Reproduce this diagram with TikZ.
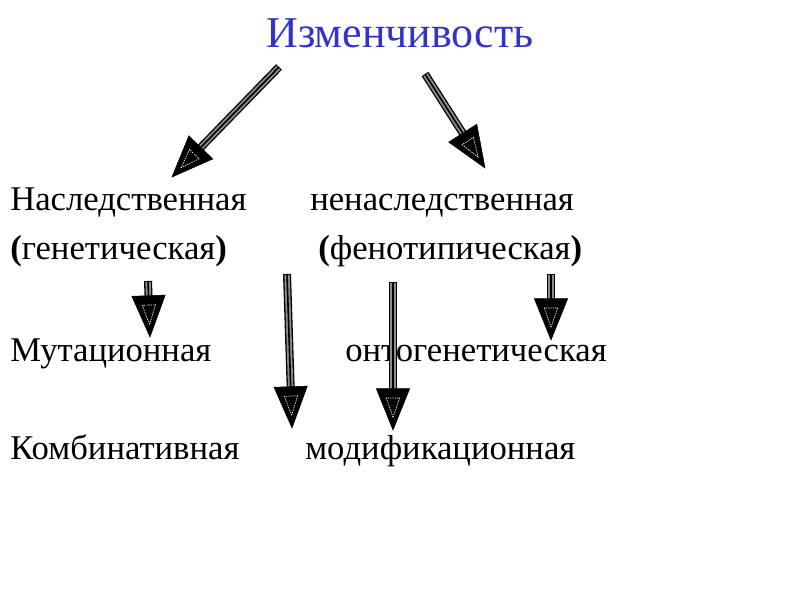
\documentclass[tikz,border=0pt]{standalone}
\usepackage{fontspec}
\setmainfont{Liberation Serif}
\usetikzlibrary{calc}
\definecolor{titleblue}{RGB}{51,51,204}
\tikzset{
  body/.style={anchor=base west, inner sep=0pt, font=\fontsize{26}{31}\selectfont},
  titletext/.style={anchor=base, inner sep=0pt, text=titleblue, font=\fontsize{33}{40}\selectfont},
  shaftout/.style={line width=6pt, black},
  shaftmid/.style={line width=4pt, black!45},
  shaftin/.style={line width=1.2pt, black},
  headfill/.style={fill=black, draw=black, line join=miter},
  headinner/.style={draw=white, line width=0.5pt, dash pattern=on 1pt off 0.8pt},
}
\newcommand\fatarrow[2]{%
  \coordinate (fa-b) at ($(#2)!31pt!(#1)$);
  \coordinate (fa-s) at ($(#2)!27pt!(#1)$);
  \draw[shaftout] (#1) -- (fa-s);
  \draw[shaftmid] ($(#1)!0.6pt!(#2)$) -- (fa-s);
  \draw[shaftin] (#1) -- (fa-s);
  \fill[headfill] (#2) -- ($(fa-b)!12.5pt!90:(#2)$) -- ($(fa-b)!12.5pt!-90:(#2)$) -- cycle;
  \coordinate (fa-ib) at ($(#2)!24pt!(#1)$);
  \draw[headinner] ($(#2)!9.5pt!(#1)$) -- ($(fa-ib)!5pt!90:(#2)$) -- ($(fa-ib)!5pt!-90:(#2)$) -- cycle;
}
\begin{document}
\begin{tikzpicture}[x=0.75pt,y=-0.75pt]
\useasboundingbox[fill=white] (0,0) rectangle (800,600);
\node[titletext] (title) at (400,47) {Изменчивость};
\node[body] (her) at (10,210) {Наследственная};
\node[body] (nonher) at (310,210) {ненаследственная};
\node[body] (gen) at (10,259) {{\bfseries(}генетическая{\bfseries)}};
\node[body] (phen) at (318,259) {{\bfseries(}фенотипическая{\bfseries)}};
\node[body] (mut) at (10,361) {Мутационная};
\node[body] (ont) at (345,361) {онтогенетическая};
\node[body] (comb) at (10,459) {Комбинативная};
\node[body] (mod) at (305,459) {модификационная};
\coordinate (a1s) at (279,67);
\coordinate (a1e) at (172,177);
\coordinate (a2s) at (425,74);
\coordinate (a2e) at (485,168);
\coordinate (a3s) at (148,281);
\coordinate (a3e) at (150,337);
\coordinate (a4s) at (287,274);
\coordinate (a4e) at (292,428);
\coordinate (a5s) at (393,282);
\coordinate (a5e) at (393,430);
\coordinate (a6s) at (551,274);
\coordinate (a6e) at (551,340);
\fatarrow{a1s}{a1e}
\fatarrow{a2s}{a2e}
\fatarrow{a3s}{a3e}
\fatarrow{a4s}{a4e}
\fatarrow{a5s}{a5e}
\fatarrow{a6s}{a6e}
\end{tikzpicture}
\end{document}
